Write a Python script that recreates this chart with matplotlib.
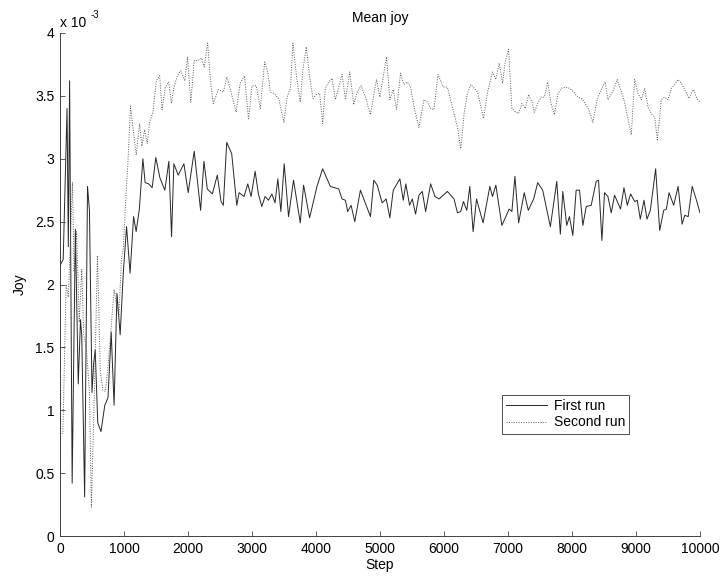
import matplotlib
matplotlib.use("Agg")
import matplotlib.pyplot as plt

plt.rcParams['font.family'] = ['Liberation Sans', 'DejaVu Sans']
plt.rcParams['font.size'] = 10

# values, joy in units of 1e-3
first_steps = [0, 50, 110, 130, 150, 190, 240, 285, 320, 340, 385, 430, 460, 500, 525, 550,
               590, 640, 700, 750, 800, 845, 890, 940, 990, 1040, 1095, 1150, 1190, 1240,
               1295, 1330, 1385, 1440, 1497, 1560, 1638, 1701, 1743, 1779, 1847, 1936, 2003,
               2097, 2197, 2249, 2301, 2380, 2458, 2516, 2552, 2605, 2683, 2762, 2798, 2876,
               2934, 2986, 3049, 3100, 3153, 3205, 3257, 3310, 3360, 3404, 3451, 3503, 3571,
               3649, 3754, 3806, 3900, 4015, 4104, 4224, 4355, 4407, 4460, 4495, 4548, 4606,
               4694, 4851, 4903, 4956, 5034, 5097, 5154, 5207, 5311, 5363, 5404, 5462, 5505,
               5556, 5608, 5661, 5713, 5791, 5859, 5922, 6053, 6157, 6210, 6262, 6304, 6356,
               6403, 6455, 6508, 6611, 6716, 6758, 6810, 6904, 7019, 7061, 7108, 7166, 7254,
               7317, 7401, 7464, 7542, 7662, 7762, 7818, 7856, 7918, 7960, 8013, 8065, 8118,
               8170, 8222, 8300, 8378, 8415, 8467, 8508, 8561, 8613, 8665, 8759, 8812, 8864,
               8916, 8979, 9020, 9067, 9125, 9172, 9224, 9307, 9370, 9433, 9475, 9517, 9589,
               9658, 9721, 9762, 9815, 9878, 9945, 10000]
first_joy = [2.15, 2.2, 3.4, 2.3, 3.62, 0.42, 2.44, 1.21, 1.72, 1.59, 0.31, 2.78, 2.59, 1.14, 1.37, 1.48,
             0.90, 0.83, 1.04, 1.10, 1.62, 1.04, 1.93, 1.60, 2.10, 2.46, 2.09, 2.54, 2.42, 2.60,
             3.00, 2.81, 2.80, 2.77, 3.01, 2.85, 2.75, 2.98, 2.38, 2.96, 2.87, 2.96, 2.73,
             3.06, 2.59, 2.98, 2.76, 2.72, 2.87, 2.66, 2.63, 3.13, 3.04, 2.63, 2.73, 2.70,
             2.80, 2.70, 2.90, 2.72, 2.62, 2.70, 2.67, 2.72, 2.65, 2.84, 2.58, 2.96, 2.54,
             2.83, 2.49, 2.79, 2.53, 2.78, 2.92, 2.78, 2.76, 2.68, 2.67, 2.58, 2.63, 2.50,
             2.75, 2.54, 2.83, 2.79, 2.65, 2.68, 2.53, 2.75, 2.84, 2.67, 2.80, 2.63, 2.68,
             2.56, 2.71, 2.74, 2.58, 2.80, 2.70, 2.68, 2.74, 2.68, 2.57, 2.58, 2.66, 2.59,
             2.78, 2.42, 2.68, 2.49, 2.78, 2.70, 2.79, 2.47, 2.60, 2.58, 2.86, 2.49, 2.73,
             2.59, 2.68, 2.81, 2.75, 2.46, 2.82, 2.40, 2.74, 2.47, 2.54, 2.39, 2.75, 2.75,
             2.47, 2.62, 2.63, 2.82, 2.83, 2.35, 2.73, 2.70, 2.57, 2.71, 2.60, 2.77, 2.63,
             2.72, 2.66, 2.67, 2.52, 2.67, 2.52, 2.59, 2.92, 2.43, 2.59, 2.60, 2.73, 2.63,
             2.78, 2.48, 2.55, 2.54, 2.78, 2.67, 2.57]

second_steps = [0, 45, 95, 130, 195, 220, 260, 300, 340, 370, 410, 460, 490, 540, 585, 630,
                670, 710, 750, 800, 845, 880, 920, 960, 990, 1030, 1060, 1102, 1150, 1191,
                1243, 1280, 1322, 1364, 1400, 1452, 1505, 1557, 1594, 1646, 1699, 1740, 1782,
                1834, 1887, 1950, 1992, 2044, 2097, 2150, 2212, 2254, 2306, 2359, 2395, 2474,
                2553, 2606, 2658, 2752, 2815, 2883, 2946, 2999, 3067, 3130, 3198, 3250, 3287,
                3339, 3418, 3497, 3549, 3601, 3639, 3702, 3754, 3796, 3848, 3900, 3953, 4005,
                4057, 4104, 4146, 4198, 4251, 4303, 4355, 4407, 4460, 4528, 4590, 4642, 4705,
                4773, 4851, 4945, 4997, 5050, 5102, 5154, 5207, 5259, 5321, 5373, 5426, 5478,
                5541, 5608, 5687, 5740, 5791, 5843, 5906, 5990, 6053, 6157, 6210, 6262, 6314,
                6367, 6419, 6523, 6565, 6618, 6680, 6758, 6810, 6863, 6915, 6956, 7009, 7061,
                7124, 7166, 7218, 7270, 7322, 7374, 7411, 7464, 7516, 7568, 7620, 7672, 7725,
                7777, 7830, 7892, 7960, 8028, 8091, 8143, 8195, 8263, 8326, 8394, 8456, 8519,
                8561, 8613, 8665, 8707, 8759, 8812, 8874, 8926, 8979, 9031, 9083, 9135, 9188,
                9240, 9292, 9334, 9396, 9448, 9501, 9553, 9605, 9658, 9710, 9762, 9825, 9900,
                9950, 10000]
second_joy = [0.80, 0.82, 2.00, 1.90, 2.81, 2.10, 2.42, 1.70, 2.12, 1.60, 1.51, 1.14, 0.23, 1.20, 2.23, 1.30,
              1.16, 1.15, 1.35, 1.66, 1.96, 1.85, 1.75, 2.20, 2.29, 2.70, 2.96, 3.42, 3.20, 3.03,
              3.28, 3.10, 3.23, 3.12, 3.29, 3.37, 3.62, 3.66, 3.39, 3.57, 3.61, 3.44, 3.57,
              3.66, 3.70, 3.62, 3.81, 3.45, 3.78, 3.78, 3.80, 3.73, 3.92, 3.58, 3.44, 3.55,
              3.53, 3.65, 3.56, 3.37, 3.60, 3.66, 3.31, 3.58, 3.58, 3.40, 3.77, 3.68, 3.53,
              3.52, 3.48, 3.29, 3.49, 3.56, 3.92, 3.63, 3.45, 3.71, 3.89, 3.65, 3.48, 3.51,
              3.52, 3.28, 3.56, 3.61, 3.64, 3.47, 3.57, 3.67, 3.47, 3.69, 3.43, 3.53, 3.58,
              3.49, 3.35, 3.63, 3.49, 3.65, 3.81, 3.47, 3.55, 3.39, 3.68, 3.59, 3.61, 3.57,
              3.39, 3.25, 3.47, 3.45, 3.40, 3.39, 3.67, 3.57, 3.57, 3.36, 3.25, 3.08, 3.36,
              3.52, 3.59, 3.53, 3.44, 3.32, 3.53, 3.69, 3.63, 3.76, 3.60, 3.77, 3.87, 3.40,
              3.37, 3.36, 3.44, 3.40, 3.51, 3.45, 3.37, 3.44, 3.49, 3.49, 3.61, 3.44, 3.35,
              3.51, 3.56, 3.57, 3.56, 3.53, 3.49, 3.48, 3.45, 3.39, 3.29, 3.47, 3.55, 3.61,
              3.47, 3.51, 3.57, 3.63, 3.55, 3.47, 3.32, 3.19, 3.63, 3.52, 3.47, 3.56, 3.41,
              3.36, 3.33, 3.15, 3.47, 3.49, 3.47, 3.56, 3.59, 3.63, 3.60, 3.55, 3.48, 3.55,
              3.48, 3.45]

x_ticks = list(range(0, 10001, 1000))
y_ticks = [0, 0.5, 1, 1.5, 2, 2.5, 3, 3.5, 4]
y_tick_labels = ['0', '0.5', '1', '1.5', '2', '2.5', '3', '3.5', '4']

fig = plt.figure(figsize=(7.21, 5.77), dpi=100)
ax = fig.add_axes([60 / 721, 41 / 577, 640 / 721, 503 / 577])

ax.plot(first_steps, first_joy, color='0.15', linewidth=0.7, label='First run')
ax.plot(second_steps, second_joy, color='0.35', linewidth=0.7, linestyle=(0, (1, 1.5)), label='Second run')

ax.set_xlim(0, 10000)
ax.set_ylim(0, 4)
ax.set_xticks(x_ticks)
ax.set_yticks(y_ticks)
ax.set_yticklabels(y_tick_labels)
ax.tick_params(direction='in', length=3.5, width=0.6, color='0.25', pad=4)

for side in ['top', 'right']:
    ax.spines[side].set_visible(False)
for side in ['left', 'bottom']:
    ax.spines[side].set_color('0.25')
    ax.spines[side].set_linewidth(0.7)

ax.set_title('Mean joy', fontsize=10, pad=8)
ax.set_xlabel('Step', labelpad=2)
ax.set_ylabel('Joy', labelpad=6)
# MATLAB-style exponent label above the y axis
ax.text(0, 1.012, 'x 10', transform=ax.transAxes, ha='left', va='baseline', fontsize=10)
ax.text(0.0475, 1.03, '-3', transform=ax.transAxes, ha='left', va='baseline', fontsize=7)

leg = ax.legend(loc='upper left', bbox_to_anchor=(0.69, 0.28), borderaxespad=0,
                fancybox=False, framealpha=1, edgecolor='0.3', handlelength=3.0,
                handletextpad=0.45, borderpad=0.3, labelspacing=0.15)
leg.get_frame().set_linewidth(0.7)

fig.savefig('out.png', dpi=100)
